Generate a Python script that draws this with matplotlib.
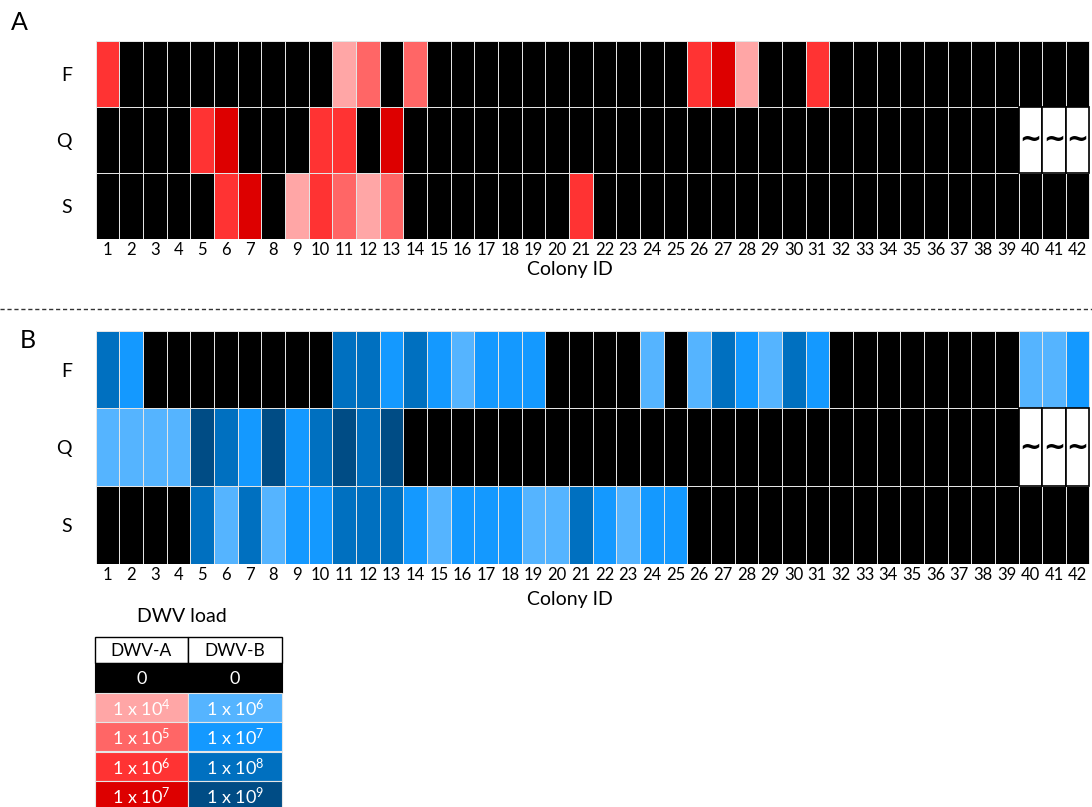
import numpy as np
import matplotlib
matplotlib.use("Agg")
import matplotlib.pyplot as plt
from matplotlib.colors import ListedColormap, BoundaryNorm
from matplotlib.patches import Rectangle

plt.rcParams['font.family'] = ['Lato', 'DejaVu Sans']
plt.rcParams['mathtext.fontset'] = 'custom'
plt.rcParams['mathtext.rm'] = 'Lato'
plt.rcParams['mathtext.it'] = 'Lato:italic'
plt.rcParams['mathtext.bf'] = 'Lato:bold'

colony_ids = list(range(1, 43))
castes = ["F", "Q", "S"]

# load class per colony: 0 = not detected, 1..4 = rising load, -1 = no sample
dwva_F = [3, 0, 0, 0, 0, 0, 0, 0, 0, 0, 1, 2, 0, 2,
          0, 0, 0, 0, 0, 0, 0, 0, 0, 0, 0, 3, 4, 1,
          0, 0, 3, 0, 0, 0, 0, 0, 0, 0, 0, 0, 0, 0]
dwva_Q = [0, 0, 0, 0, 3, 4, 0, 0, 0, 3, 3, 0, 4, 0,
          0, 0, 0, 0, 0, 0, 0, 0, 0, 0, 0, 0, 0, 0,
          0, 0, 0, 0, 0, 0, 0, 0, 0, 0, 0, -1, -1, -1]
dwva_S = [0, 0, 0, 0, 0, 3, 4, 0, 1, 3, 2, 1, 2, 0,
          0, 0, 0, 0, 0, 0, 3, 0, 0, 0, 0, 0, 0, 0,
          0, 0, 0, 0, 0, 0, 0, 0, 0, 0, 0, 0, 0, 0]

dwvb_F = [3, 2, 0, 0, 0, 0, 0, 0, 0, 0, 3, 3, 2, 3,
          2, 1, 2, 2, 2, 0, 0, 0, 0, 1, 0, 1, 3, 2,
          1, 3, 2, 0, 0, 0, 0, 0, 0, 0, 0, 1, 1, 2]
dwvb_Q = [1, 1, 1, 1, 4, 3, 2, 4, 2, 3, 4, 3, 4, 0,
          0, 0, 0, 0, 0, 0, 0, 0, 0, 0, 0, 0, 0, 0,
          0, 0, 0, 0, 0, 0, 0, 0, 0, 0, 0, -1, -1, -1]
dwvb_S = [0, 0, 0, 0, 3, 1, 3, 1, 2, 2, 3, 3, 3, 2,
          1, 2, 2, 2, 1, 1, 3, 2, 1, 2, 2, 0, 0, 0,
          0, 0, 0, 0, 0, 0, 0, 0, 0, 0, 0, 0, 0, 0]

red_colors = ["#000000", "#FFA6A6", "#FF6666", "#FF3333", "#DD0000"]
blue_colors = ["#000000", "#55B4FF", "#1499FF", "#0070C0", "#004C85"]
dwva_levels = ["0", "1 x 10$^{4}$", "1 x 10$^{5}$", "1 x 10$^{6}$", "1 x 10$^{7}$"]
dwvb_levels = ["0", "1 x 10$^{6}$", "1 x 10$^{7}$", "1 x 10$^{8}$", "1 x 10$^{9}$"]

W, H = 1092, 807
fig = plt.figure(figsize=(W / 100, H / 100), dpi=100)


def px_axes(left, top, right, bottom):
    return fig.add_axes([left / W, 1 - bottom / H, (right - left) / W, (bottom - top) / H])


def draw_panel(ax, rows, colors, letter, label_y):
    data = np.ma.masked_less(np.array(rows, dtype=float), 0)
    cmap = ListedColormap(colors)
    norm = BoundaryNorm(np.arange(-0.5, len(colors)), cmap.N)
    xe = np.arange(0.5, len(colony_ids) + 1)
    ye = np.arange(-0.5, len(castes))
    ax.pcolormesh(xe, ye, data, cmap=cmap, norm=norm, edgecolors="#e4e4e4", linewidth=0.7)
    # samples that are missing
    for r, c in zip(*np.where(np.array(rows) < 0)):
        ax.add_patch(Rectangle((colony_ids[c] - 0.5, r - 0.5), 1, 1, facecolor="white",
                               edgecolor="black", linewidth=1.2, zorder=3))
        ax.text(colony_ids[c], r, "~", ha="center", va="center", fontsize=19,
                fontweight="bold", family="DejaVu Sans", zorder=4)
    ax.set_xlim(0.5, len(colony_ids) + 0.5)
    ax.set_ylim(len(castes) - 0.5, -0.5)
    ax.set_xticks(colony_ids)
    ax.set_yticks(range(len(castes)), castes)
    ax.tick_params(axis="x", length=0, labelsize=12, pad=2)
    ax.tick_params(axis="y", length=0, labelsize=14, pad=17)
    for s in ax.spines.values():
        s.set_visible(False)
    ax.set_xlabel("Colony ID", fontsize=14)
    ax.xaxis.set_label_coords((570 - 95.7) / (1089.5 - 95.7), label_y)
    fig.text(letter[1] / W, 1 - letter[2] / H, letter[0], fontsize=18, ha="center", va="center")


axA = px_axes(95.7, 41.3, 1089.5, 239)
draw_panel(axA, [dwva_F, dwva_Q, dwva_S], red_colors, ("A", 19, 22), -0.11)

axB = px_axes(95.7, 330.7, 1089.5, 564)
draw_panel(axB, [dwvb_F, dwvb_Q, dwvb_S], blue_colors, ("B", 28, 341), -0.115)

# overlay in pixel units: separator and legend table
ov = fig.add_axes([0, 0, 1, 1])
ov.set_xlim(0, W)
ov.set_ylim(H, 0)
ov.axis("off")
ov.plot([0, W], [309, 309], color="#333333", linewidth=1, linestyle=(0, (3, 2)))

ov.text(182, 617, "DWV load", fontsize=14, ha="center", va="center")
x0, xm, x1 = 95, 188, 281.5
hy0, hy1 = 636.7, 663.3
rh = 29.4
for xa, xb, name in [(x0, xm, "DWV-A"), (xm, x1, "DWV-B")]:
    ov.add_patch(Rectangle((xa, hy0), xb - xa, hy1 - hy0, facecolor="white",
                           edgecolor="black", linewidth=1))
    ov.text((xa + xb) / 2, (hy0 + hy1) / 2 + 1, name, fontsize=12.5, ha="center", va="center")
for k in range(len(dwva_levels)):
    y = hy1 + k * rh
    for xa, xb, cols, labs in [(x0, xm, red_colors, dwva_levels), (xm, x1, blue_colors, dwvb_levels)]:
        ov.add_patch(Rectangle((xa, y), xb - xa, rh, facecolor=cols[k],
                               edgecolor=cols[k] if k == 0 else "#e6e6e6", linewidth=0.8))
        ov.text((xa + xb) / 2, y + rh / 2 + 1, labs[k], fontsize=13, color="white",
                ha="center", va="center")

fig.savefig("out.png", dpi=100)
